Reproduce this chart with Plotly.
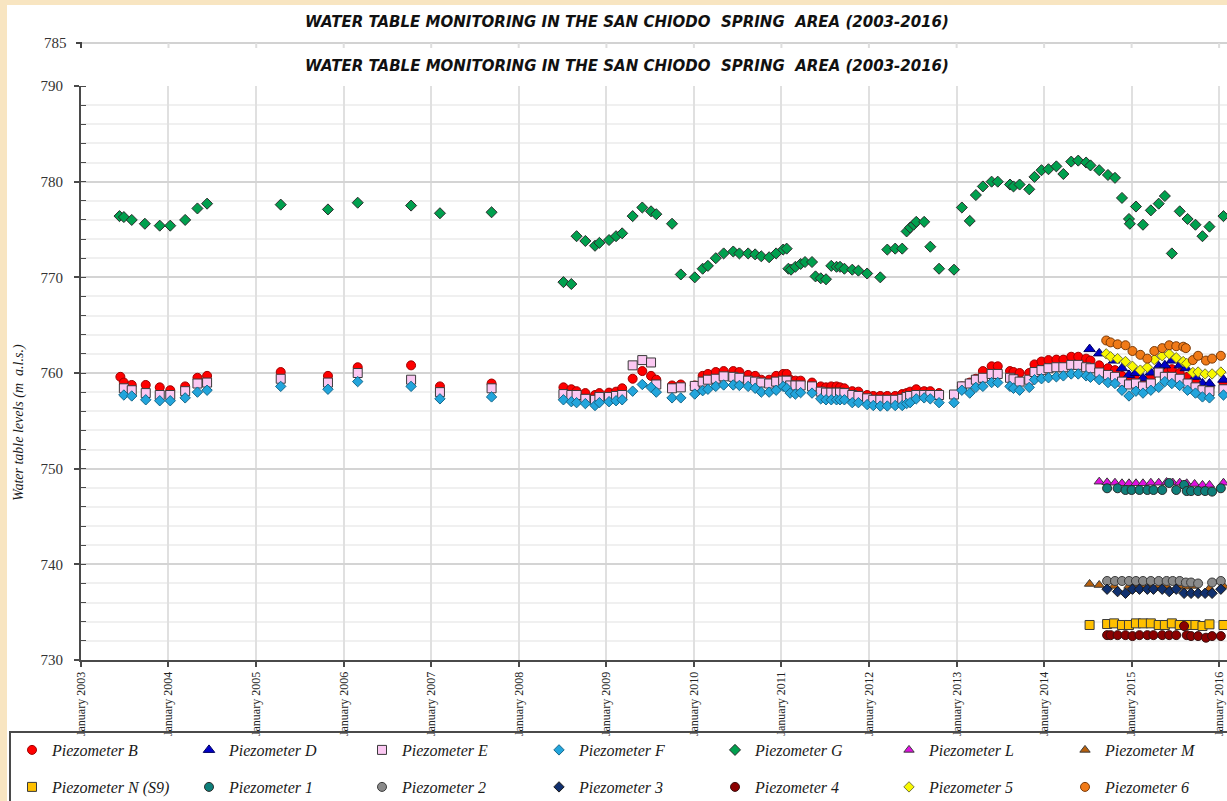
import pandas as pd
import plotly.graph_objects as go

# ---------------------------------------------------------------------------
# Sampling times (decimal years) and water-table levels (m a.s.l.)
# ---------------------------------------------------------------------------
t_early = [2003.49, 2003.58, 2003.74, 2003.90, 2004.02, 2004.19, 2004.33, 2004.44,
           2005.28, 2005.82, 2006.16, 2006.77, 2007.10, 2007.69]
t_main = [2008.51, 2008.60, 2008.66, 2008.76, 2008.87, 2008.92, 2009.03, 2009.11, 2009.18, 2009.30,
          2009.41, 2009.51, 2009.57, 2009.75, 2009.85, 2010.01, 2010.10, 2010.16, 2010.25, 2010.34,
          2010.45, 2010.52, 2010.62, 2010.70, 2010.77, 2010.86, 2010.94, 2011.02, 2011.06, 2011.10,
          2011.16, 2011.22, 2011.35, 2011.45, 2011.51, 2011.57, 2011.63, 2011.67, 2011.72, 2011.81,
          2011.88, 2011.98, 2012.05, 2012.13, 2012.21, 2012.30, 2012.38, 2012.43, 2012.47, 2012.54,
          2012.63, 2012.70, 2012.80, 2012.97, 2013.06, 2013.15, 2013.22, 2013.30, 2013.40, 2013.47,
          2013.61, 2013.65, 2013.72, 2013.83, 2013.89, 2013.97, 2014.05, 2014.14, 2014.22, 2014.31,
          2014.39, 2014.48, 2014.53, 2014.63, 2014.73, 2014.81, 2014.89, 2014.97, 2015.05, 2015.13,
          2015.22, 2015.31, 2015.38, 2015.46, 2015.55, 2015.64, 2015.73, 2015.81, 2015.89, 2016.05]

b_t = [2003.45] + t_early + t_main
b_v = [759.6, 759.0, 758.75, 758.75, 758.5, 758.2, 758.6, 759.5, 759.7, 760.1, 759.7, 760.6, 760.8, 758.6, 758.9,
       758.5, 758.3, 758.1, 757.9, 757.7, 757.9, 757.95, 758.05, 758.4, 759.4,
       760.2, 759.7, 759.3, 758.7, 758.8, 758.7, 759.7, 759.9, 760.1, 760.2,
       760.2, 760.1, 759.8, 759.7, 759.3, 759.3, 759.7, 759.9, 759.9, 759.3,
       759.2, 759.2, 759.0, 758.6, 758.5, 758.6, 758.6, 758.5, 758.4, 758.1,
       758.05, 757.7, 757.6, 757.6, 757.6, 757.6, 757.8, 757.9, 758.05, 758.3,
       758.1, 758.1, 757.9, 757.7, 758.6, 759.0, 759.4, 760.2, 760.7, 760.7,
       760.2, 760.1, 760.0, 760.0, 760.9, 761.2, 761.35, 761.4, 761.4, 761.7,
       761.7, 761.5, 761.3, 760.8, 760.5, 760.3, 759.7, 759.3, 759.3, 759.1,
       759.6, 760.3, 760.1, 760.4, 760.0, 759.6, 759.0, 758.6, 758.5, 759.0]

e_t = t_early + t_main
e_v = [758.4, 758.2, 757.9, 757.7, 757.7, 758.1, 758.9, 759.0, 759.4, 759.0, 760.0, 759.3, 758.0, 758.4,
       757.8, 757.7, 757.7, 757.3, 757.2, 757.5, 757.5, 757.6, 757.7, 760.8,
       761.35, 761.1, 758.8, 758.4, 758.5, 758.65, 759.1, 759.3, 759.4, 759.65,
       759.6, 759.5, 759.2, 759.1, 759.0, 758.9, 759.1, 759.2, 759.2, 758.7,
       758.7, 758.7, 758.6, 758.05, 757.95, 757.95, 757.95, 757.95, 757.9, 757.7,
       757.6, 757.35, 757.2, 757.2, 757.2, 757.2, 757.3, 757.5, 757.6, 757.7,
       757.7, 757.7, 757.7, 757.75, 758.6, 758.9, 759.3, 759.5, 759.9, 759.9,
       759.5, 759.35, 759.1, 759.3, 760.1, 760.3, 760.5, 760.6, 760.6, 760.85,
       760.85, 760.6, 760.5, 760.05, 759.8, 759.6, 759.1, 758.8, 758.9, 758.6,
       758.9, 760.05, 759.6, 759.6, 759.4, 758.9, 758.5, 758.2, 758.1, 758.3]

f_t = t_early + t_main
f_v = [757.7, 757.6, 757.2, 757.1, 757.1, 757.4, 758.0, 758.2, 758.6, 758.3, 759.1, 758.6, 757.3, 757.5,
       757.2, 757.0, 756.9, 756.8, 756.6, 756.9, 757.0, 757.1, 757.2, 758.1,
       758.8, 758.5, 758.0, 757.4, 757.4, 757.8, 758.15, 758.3, 758.6, 758.75,
       758.75, 758.7, 758.6, 758.4, 758.0, 758.0, 758.2, 758.6, 758.4, 757.9,
       757.8, 757.95, 757.9, 757.3, 757.2, 757.2, 757.2, 757.2, 757.2, 756.9,
       756.9, 756.7, 756.6, 756.55, 756.55, 756.6, 756.6, 756.8, 756.9, 757.3,
       757.4, 757.3, 756.9, 756.9, 758.2, 757.9, 758.5, 758.6, 759.0, 759.0,
       758.6, 758.4, 758.2, 758.5, 759.3, 759.4, 759.5, 759.6, 759.7, 759.9,
       759.9, 759.7, 759.55, 759.3, 759.0, 758.9, 758.2, 757.6, 758.1, 757.9,
       758.2, 758.5, 759.1, 758.9, 758.7, 758.2, 757.9, 757.5, 757.4, 757.7]

g_t = [2003.44, 2003.49, 2003.58, 2003.73, 2003.90, 2004.02, 2004.19, 2004.33, 2004.44,
       2005.28, 2005.82, 2006.16, 2006.77, 2007.10, 2007.69,
       2008.51, 2008.60, 2008.66, 2008.76, 2008.87, 2008.92, 2009.03, 2009.11, 2009.18, 2009.30,
       2009.41, 2009.51, 2009.57, 2009.75, 2009.85, 2010.01, 2010.10, 2010.16, 2010.25, 2010.34,
       2010.45, 2010.52, 2010.62, 2010.70, 2010.77, 2010.86, 2010.94, 2011.02, 2011.06, 2011.08,
       2011.11, 2011.16, 2011.22, 2011.27, 2011.35, 2011.39, 2011.45, 2011.51, 2011.57, 2011.63,
       2011.67, 2011.72, 2011.81, 2011.88, 2011.98, 2012.13, 2012.21, 2012.30, 2012.38, 2012.43,
       2012.47, 2012.51, 2012.54, 2012.63, 2012.70, 2012.80, 2012.97, 2013.06, 2013.15, 2013.22,
       2013.30, 2013.40, 2013.47, 2013.61, 2013.65, 2013.72, 2013.83, 2013.89, 2013.97, 2014.05,
       2014.14, 2014.22, 2014.31, 2014.39, 2014.48, 2014.53, 2014.63, 2014.73, 2014.81, 2014.89,
       2014.97, 2014.98, 2015.05, 2015.13, 2015.22, 2015.31, 2015.38, 2015.46, 2015.55, 2015.64,
       2015.73, 2015.81, 2015.89, 2016.05]
g_v = [776.4, 776.3, 776.0, 775.6, 775.4, 775.4, 776.0, 777.2, 777.7,
       777.6, 777.1, 777.8, 777.5, 776.7, 776.8,
       769.5, 769.3, 774.3, 773.8, 773.3, 773.6, 773.9, 774.3, 774.6, 776.4,
       777.3, 776.9, 776.6, 775.6, 770.3, 770.0, 770.9, 771.2, 772.0, 772.5,
       772.7, 772.5, 772.5, 772.4, 772.2, 772.1, 772.5, 772.9, 773.0, 770.9,
       770.8, 771.1, 771.4, 771.6, 771.6, 770.1, 769.9, 769.8, 771.2, 771.1,
       771.1, 770.9, 770.8, 770.7, 770.4, 770.0, 772.9, 773.0, 773.0, 774.8,
       775.2, 775.5, 775.8, 775.8, 773.2, 770.9, 770.8, 777.3, 775.9, 778.6,
       779.5, 780.0, 780.0, 779.7, 779.5, 779.7, 779.2, 780.5, 781.2, 781.3,
       781.6, 780.8, 782.1, 782.2, 782.0, 781.7, 781.2, 780.7, 780.4, 778.3,
       776.1, 775.6, 777.4, 775.5, 777.0, 777.7, 778.5, 772.5, 776.9, 776.1,
       775.5, 774.3, 775.3, 776.4]

d_t = [2014.52, 2014.63, 2014.80, 2014.89, 2014.97, 2015.05, 2015.13, 2015.22, 2015.31,
       2015.38, 2015.46, 2015.55, 2015.62, 2015.73, 2015.81, 2015.89, 2016.05]
d_v = [762.5, 762.05, 761.3, 760.5, 759.8, 760.0, 759.45, 760.05, 760.7,
       760.8, 761.3, 760.8, 760.5, 759.6, 758.9, 758.9, 759.3]

l_t = [2014.63, 2014.72, 2014.81, 2014.89, 2014.97, 2015.05, 2015.13, 2015.22, 2015.31,
       2015.40, 2015.47, 2015.55, 2015.63, 2015.72, 2015.81, 2015.89, 2016.05]
l_v = [748.64, 748.57, 748.53, 748.47, 748.47, 748.47, 748.47, 748.53, 748.53,
       748.6, 748.55, 748.53, 748.47, 748.4, 748.3, 748.3, 748.53]

m_t = [2014.52, 2014.63, 2014.80, 2014.97, 2015.05, 2015.13, 2015.22, 2015.31, 2015.40,
       2015.54, 2015.63, 2015.71, 2015.89, 2016.05]
m_v = [737.95, 737.84, 737.74, 737.74, 737.84, 737.74, 737.74, 737.74, 737.74,
       737.74, 737.66, 737.74, 737.5, 737.74]

n_t = [2014.52, 2014.72, 2014.80, 2014.89, 2014.97, 2015.05, 2015.13, 2015.22, 2015.31,
       2015.38, 2015.46, 2015.55, 2015.64, 2015.73, 2015.81, 2015.89, 2016.05]
n_v = [733.66, 733.76, 733.83, 733.66, 733.66, 733.83, 733.83, 733.83, 733.66,
       733.66, 733.83, 733.66, 733.66, 733.66, 733.55, 733.73, 733.66]

p1_t = [2014.72, 2014.84, 2014.93, 2015.00, 2015.09, 2015.18, 2015.25, 2015.35, 2015.43,
        2015.51, 2015.60, 2015.63, 2015.68, 2015.76, 2015.84, 2015.92, 2016.02]
p1_v = [747.95, 747.95, 747.77, 747.77, 747.77, 747.77, 747.77, 747.77, 748.5,
        747.77, 748.3, 747.66, 747.66, 747.66, 747.66, 747.6, 747.95]

p2_t = [2014.72, 2014.81, 2014.89, 2014.97, 2015.05, 2015.13, 2015.22, 2015.31,
        2015.40, 2015.47, 2015.55, 2015.62, 2015.68, 2015.76, 2015.92, 2016.02]
p2_v = [738.26, 738.26, 738.26, 738.26, 738.26, 738.26, 738.26, 738.26,
        738.26, 738.26, 738.26, 738.1, 738.1, 738.0, 738.1, 738.26]

p3_t = [2014.72, 2014.84, 2014.93, 2015.01, 2015.09, 2015.18, 2015.25, 2015.35,
        2015.43, 2015.51, 2015.60, 2015.68, 2015.76, 2015.84, 2015.92, 2016.02]
p3_v = [737.4, 737.15, 736.97, 737.4, 737.4, 737.4, 737.4, 737.4,
        737.15, 737.4, 736.97, 736.97, 736.97, 736.97, 736.97, 737.4]

p4_t = [2014.72, 2014.76, 2014.84, 2014.93, 2015.01, 2015.09, 2015.18, 2015.25, 2015.35,
        2015.43, 2015.51, 2015.60, 2015.63, 2015.68, 2015.76, 2015.85, 2015.92, 2016.02]
p4_v = [732.6, 732.6, 732.6, 732.6, 732.5, 732.6, 732.6, 732.6, 732.6,
        732.6, 732.6, 733.55, 732.6, 732.5, 732.5, 732.33, 732.5, 732.5]

p5_t = [2014.71, 2014.76, 2014.84, 2014.93, 2015.01, 2015.10, 2015.18, 2015.26, 2015.35,
        2015.43, 2015.51, 2015.59, 2015.63, 2015.70, 2015.76, 2015.84, 2015.92, 2016.02]
p5_v = [762.0, 761.7, 761.5, 761.2, 760.7, 760.3, 760.6, 761.4, 761.8,
        762.0, 761.6, 761.2, 761.0, 760.05, 760.1, 759.9, 759.9, 760.1]

p6_t = [2014.71, 2014.76, 2014.84, 2014.93, 2015.01, 2015.10, 2015.18, 2015.26, 2015.35,
        2015.43, 2015.51, 2015.59, 2015.62, 2015.70, 2015.76, 2015.85, 2015.92, 2016.02]
p6_v = [763.4, 763.2, 763.0, 762.9, 762.3, 761.9, 761.5, 762.3, 762.6,
        762.9, 762.8, 762.75, 762.6, 761.35, 761.8, 761.3, 761.5, 761.8]

year_ticks = list(range(2003, 2017))

TITLE = "WATER TABLE MONITORING IN THE SAN CHIODO\u00a0 SPRING\u00a0 AREA (2003-2016)"
Y_TITLE = "Water table levels (m\u00a0 a.l.s.)"


def to_dates(years):
    """Decimal years -> timestamps."""
    out = []
    for y in years:
        start = pd.Timestamp(int(y), 1, 1)
        span = pd.Timestamp(int(y) + 1, 1, 1) - start
        out.append(start + span * (y - int(y)))
    return out


# ---------------------------------------------------------------------------
# Marker styles, in legend order (two rows of seven)
# ---------------------------------------------------------------------------
series = [
    ("Piezometer B", b_t, b_v, "circle", "#ff0000", "#a00000", 9),
    ("Piezometer D", d_t, d_v, "triangle-up", "#0000c8", "#000060", 10),
    ("Piezometer E", e_t, e_v, "square", "#fbc8f2", "#3a3a3a", 9),
    ("Piezometer F", f_t, f_v, "diamond", "#22a5dc", "#16678a", 8),
    ("Piezometer G", g_t, g_v, "diamond", "#00a04e", "#2b2b2b", 8.5),
    ("Piezometer L", l_t, l_v, "triangle-up", "#e010e0", "#3a3a3a", 9),
    ("Piezometer M", m_t, m_v, "triangle-up", "#b8600c", "#3a3a3a", 9),
    ("Piezometer N (S9)", n_t, n_v, "square", "#ffc000", "#3a3a3a", 9),
    ("Piezometer 1", p1_t, p1_v, "circle", "#0e7f7a", "#2b2b2b", 9),
    ("Piezometer 2", p2_t, p2_v, "circle", "#8a8a8a", "#3a3a3a", 9),
    ("Piezometer 3", p3_t, p3_v, "diamond", "#10306e", "#1a1a1a", 8),
    ("Piezometer 4", p4_t, p4_v, "circle", "#8b0000", "#3a1010", 9),
    ("Piezometer 5", p5_t, p5_v, "diamond", "#f8f800", "#777733", 8),
    ("Piezometer 6", p6_t, p6_v, "circle", "#f07a18", "#7a3a08", 9),
]

# Page geometry (pixels) used to place the frame, legend and header
W, H = 1227, 801
ML, MR, MT, MB = 81, 0, 86, 141
PW, PH = W - ML - MR, H - MT - MB


def px(x):
    return (x - ML) / PW


def py(y):
    return (H - MB - y) / PH


legend_cols = [38, 215, 388, 565, 741, 915, 1091]
legend_rows = [750, 787]
serif = "Liberation Serif"

fig = go.Figure()
layout_legends = {}
for i, (name, t, v, sym, fill, edge, size) in enumerate(series):
    key = "legend" if i == 0 else f"legend{i + 1}"
    fig.add_trace(go.Scatter(
        x=to_dates(t), y=v, mode="markers", name=name, legend=key,
        marker=dict(symbol=sym, color=fill, size=size, line=dict(color=edge, width=1)),
    ))
    col, row = i % 7, i // 7
    layout_legends[key] = dict(
        x=px(legend_cols[col] - 26), xanchor="left",
        y=py(legend_rows[row]), yanchor="middle",
        bgcolor="rgba(0,0,0,0)", borderwidth=0,
        font=dict(family=serif, size=16, style="italic", color="#1a1a1a"),
    )

shapes = [
    # white chart panel on the cream page
    dict(type="rect", xref="paper", yref="paper", x0=px(7), x1=px(1240), y0=py(820), y1=py(5),
         fillcolor="white", line=dict(width=0), layer="below"),
    # legend frame
    dict(type="rect", xref="paper", yref="paper", x0=px(10), x1=px(1245), y0=py(830), y1=py(732),
         fillcolor="rgba(0,0,0,0)", line=dict(color="#4a4a4a", width=2), layer="above"),
    # header strip: 785 gridline and tick
    dict(type="line", xref="paper", yref="paper", x0=px(81), x1=px(1240), y0=py(43), y1=py(43),
         line=dict(color="#d2d2d2", width=2), layer="below"),
    dict(type="line", xref="paper", yref="paper", x0=px(76), x1=px(82), y0=py(43), y1=py(43),
         line=dict(color="#444", width=2), layer="below"),
    dict(type="line", xref="paper", yref="paper", x0=px(81), x1=px(81), y0=py(43), y1=py(48),
         line=dict(color="#444", width=2), layer="below"),
]
for yr in year_ticks[1:]:
    shapes.append(dict(type="line", xref="x", yref="paper",
                       x0=pd.Timestamp(yr, 1, 1), x1=pd.Timestamp(yr, 1, 1),
                       y0=py(43), y1=py(48), line=dict(color="#dedede", width=2), layer="below"))

title_font = dict(family="DejaVu Sans", size=15, color="#111", weight="bold", style="italic")

annotations = [
    dict(text=TITLE, xref="paper", yref="paper", x=px(627), y=py(22), showarrow=False,
         xanchor="center", yanchor="middle", font=title_font),
    dict(text="785", xref="paper", yref="paper", x=px(69), y=py(43), showarrow=False,
         xanchor="right", yanchor="middle", font=dict(family=serif, size=15, color="#333")),
    dict(text=Y_TITLE, xref="paper", yref="paper", x=px(19), y=py(423), showarrow=False,
         textangle=-90, xanchor="center", yanchor="middle",
         font=dict(family=serif, size=14, style="italic", color="#1a1a1a")),
]

fig.update_layout(
    width=W, height=H,
    margin=dict(l=ML, r=MR, t=MT, b=MB, autoexpand=False),
    paper_bgcolor="#f8e5c1",
    plot_bgcolor="white",
    title=dict(text=TITLE, x=627 / W, xref="container", xanchor="center",
               y=1 - 66 / H, yref="container", yanchor="middle", font=title_font),
    shapes=shapes,
    annotations=annotations,
    showlegend=True,
    **layout_legends,
)

fig.update_xaxes(
    type="date",
    range=[pd.Timestamp(2003, 1, 1), pd.Timestamp(2016, 2, 3)],
    tickvals=[pd.Timestamp(y, 1, 1) for y in year_ticks],
    tickformat="%B %Y", tickangle=-90,
    tickfont=dict(family=serif, size=12, color="#222"),
    showgrid=True, gridcolor="#e0e0e0", gridwidth=2,
    showline=True, linecolor="#4a4a4a", linewidth=2,
    ticks="outside", ticklen=5, tickwidth=1.5, tickcolor="#4a4a4a",
    zeroline=False,
)
fig.update_yaxes(
    range=[730, 790], dtick=10, tick0=730,
    tickfont=dict(family=serif, size=15, color="#333"),
    showgrid=True, gridcolor="#d4d4d4", gridwidth=2,
    showline=True, linecolor="#4a4a4a", linewidth=2,
    ticks="outside", ticklen=5, tickwidth=1.5, tickcolor="#4a4a4a",
    ticklabelstandoff=8,
    minor=dict(dtick=2, showgrid=True, gridcolor="#f0f0f0", gridwidth=1.5,
               ticks="inside", ticklen=5, tickcolor="#4a4a4a", tickwidth=1),
    zeroline=False,
)

fig.write_html("out.html")
